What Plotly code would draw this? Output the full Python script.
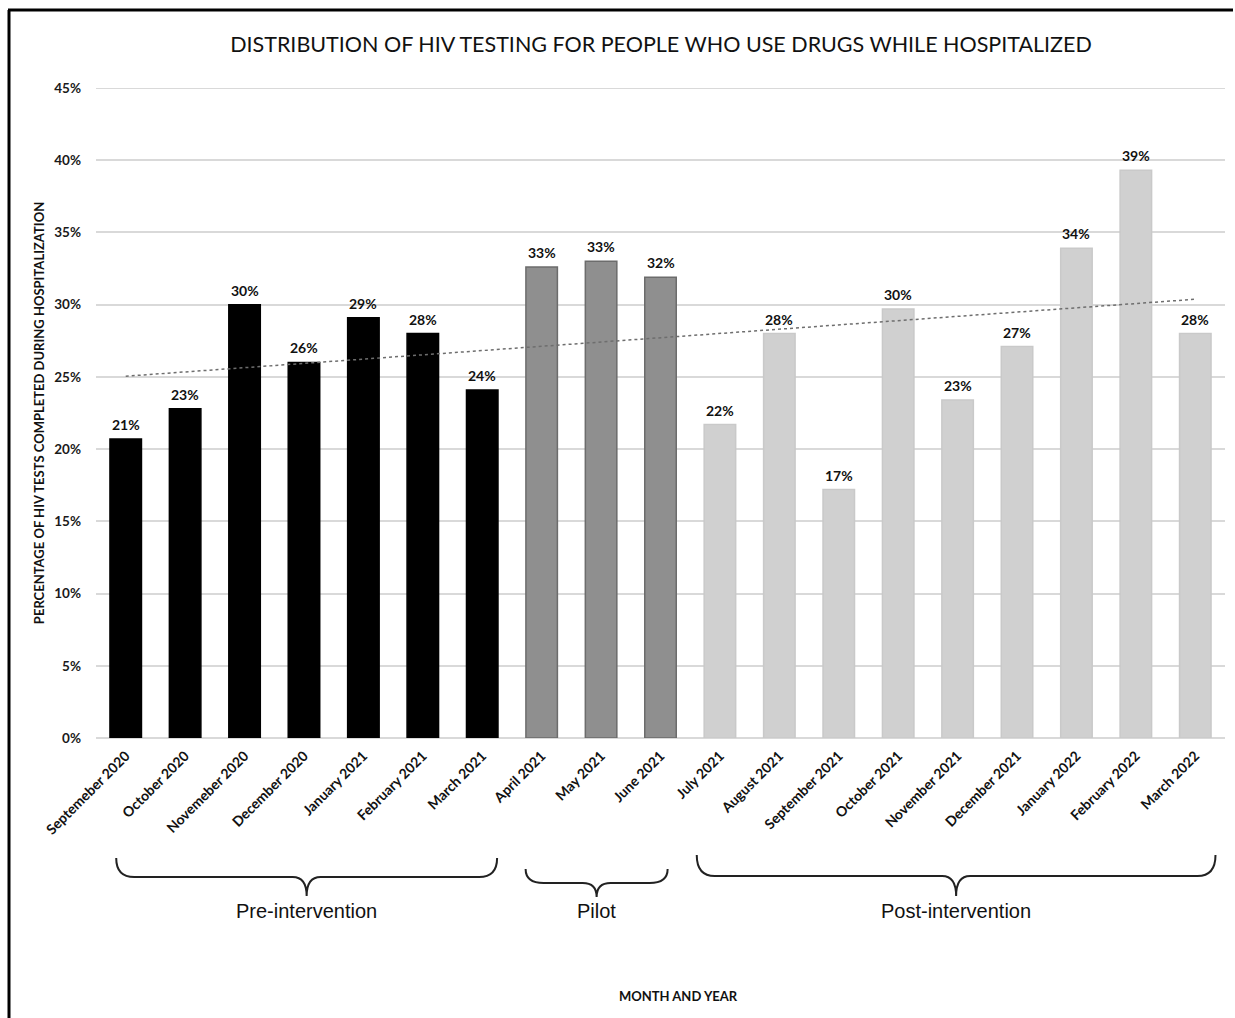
import numpy as np
import plotly.graph_objects as go

# ---- data -------------------------------------------------------------
months = [
    "Septemeber 2020", "October 2020", "Novemeber 2020", "December 2020",
    "January 2021", "February 2021", "March 2021",
    "April 2021", "May 2021", "June 2021",
    "July 2021", "August 2021", "September 2021", "October 2021",
    "November 2021", "December 2021", "January 2022", "February 2022",
    "March 2022",
]
pct_tested = [
    20.7, 22.8, 30.0, 26.0, 29.1, 28.0, 24.1,
    32.6, 33.0, 31.9,
    21.7, 28.0, 17.2, 29.7, 23.4, 27.1, 33.9, 39.3, 28.0,
]
phase_names = ["Pre-intervention", "Pilot", "Post-intervention"]
phase_first = [0, 7, 10]
phase_last = [6, 9, 18]
y_ticks = [0, 5, 10, 15, 20, 25, 30, 35, 40, 45]
y_tick_text = [f"{v}%" for v in y_ticks]

# ---- styling ----------------------------------------------------------
W, H = 1235, 1018
PLOT_L, PLOT_R, PLOT_T, PLOT_B = 96, 1225, 88, 738
phase_fill = ["#000000", "#8f8f8f", "#d0d0d0"]
phase_edge = ["#000000", "#6c6c6c", "#c9c9c9"]
GRID = "#d9d9d9"
FONT = "Lato, 'Open Sans', sans-serif"

n = len(months)
pw, ph = PLOT_R - PLOT_L, PLOT_B - PLOT_T


def px_x(px):
    return (px - PLOT_L) / pw


def px_y(py):
    return (PLOT_B - py) / ph


def idx_x(i):
    # category index -> paper x
    return (i + 0.5) / n


fig = go.Figure()

# bars, one trace per phase
for k, name in enumerate(phase_names):
    sl = slice(phase_first[k], phase_last[k] + 1)
    fig.add_trace(go.Bar(
        x=months[sl], y=pct_tested[sl], name=name,
        marker=dict(color=phase_fill[k], line=dict(color=phase_edge[k], width=1.5)),
        showlegend=False, hoverinfo="x+y",
    ))

# linear trend over all months
xi = np.arange(n)
slope, icpt = np.polyfit(xi, pct_tested, 1)
fig.add_trace(go.Scatter(
    x=[months[0], months[-1]], y=[icpt, icpt + slope * (n - 1)],
    mode="lines", line=dict(color="#6e6e6e", width=1.5, dash="dot"),
    showlegend=False, hoverinfo="skip",
))

# value labels above bars
for m, v in zip(months, pct_tested):
    fig.add_annotation(
        x=m, y=v, text=f"{round(v)}%", showarrow=False,
        yanchor="bottom", yshift=4,
        font=dict(family=FONT, size=14, color="#111111", weight="bold"),
    )

# top gridline at the upper end of the axis
fig.add_shape(type="line", xref="paper", yref="y", x0=0, x1=1,
              y0=y_ticks[-1], y1=y_ticks[-1], line=dict(color=GRID, width=2),
              layer="below")

# curly braces under the month labels
brace_span = [(-0.16, 6.25), (6.73, 9.12), (9.61, 18.34)]
brace_top = [858, 869, 855]
brace_line = [877, 883, 876]
brace_tip = [896, 897, 896]
for k, name in enumerate(phase_names):
    x0 = idx_x(brace_span[k][0])
    x1 = idx_x(brace_span[k][1])
    xm = (x0 + x1) / 2
    yt, yl, yp = px_y(brace_top[k]), px_y(brace_line[k]), px_y(brace_tip[k])
    r = 18 / pw
    rm = 14 / pw
    path = (
        f"M {x0},{yt} Q {x0},{yl} {x0 + r},{yl} "
        f"L {xm - rm},{yl} Q {xm},{yl} {xm},{yp} "
        f"Q {xm},{yl} {xm + rm},{yl} "
        f"L {x1 - r},{yl} Q {x1},{yl} {x1},{yt}"
    )
    fig.add_shape(type="path", path=path, xref="paper", yref="paper",
                  line=dict(color="#222222", width=2))
    fig.add_annotation(
        x=xm, y=px_y(911), xref="paper", yref="paper", text=name,
        showarrow=False, xanchor="center", yanchor="middle",
        font=dict(family="'Liberation Sans', Arial, sans-serif", size=20, color="#111111"),
    )

# x axis caption
fig.add_annotation(
    x=px_x(678), y=px_y(996), xref="paper", yref="paper",
    text="MONTH AND YEAR", showarrow=False, xanchor="center", yanchor="middle",
    font=dict(family=FONT, size=13, color="#111111", weight="bold"),
)

# frame lines (top and left)
fig.add_shape(type="line", xref="paper", yref="paper",
              x0=px_x(8), x1=px_x(W - 2), y0=px_y(10), y1=px_y(10),
              line=dict(color="#000000", width=3))
fig.add_shape(type="line", xref="paper", yref="paper",
              x0=px_x(9), x1=px_x(9), y0=px_y(10), y1=px_y(H + 2),
              line=dict(color="#000000", width=3))

fig.update_layout(
    width=W, height=H,
    margin=dict(l=PLOT_L, r=W - PLOT_R, t=PLOT_T, b=H - PLOT_B),
    paper_bgcolor="white", plot_bgcolor="white",
    bargap=0.47,
    title=dict(
        text="DISTRIBUTION OF HIV TESTING FOR PEOPLE WHO USE DRUGS WHILE HOSPITALIZED",
        x=661 / W, y=1 - 44 / H, xref="container", yref="container",
        xanchor="center", yanchor="middle",
        font=dict(family=FONT, size=21.5, color="#111111"),
    ),
    xaxis=dict(
        type="category", tickangle=-45, showgrid=False, zeroline=False,
        showline=False, ticks="", ticklabelstandoff=6,
        tickfont=dict(family=FONT, size=14, color="#111111", weight="bold"),
    ),
    yaxis=dict(
        range=[0, 45], tickmode="array", tickvals=y_ticks, ticktext=y_tick_text,
        showgrid=True, gridcolor=GRID, gridwidth=2,
        zeroline=True, zerolinecolor=GRID, zerolinewidth=2,
        showline=False, ticks="", ticklabelstandoff=14,
        tickfont=dict(family=FONT, size=13.5, color="#1a1a1a", weight="bold"),
        title=dict(
            text="PERCENTAGE OF HIV TESTS COMPLETED DURING HOSPITALIZATION",
            standoff=6,
            font=dict(family=FONT, size=13, color="#111111", weight="bold"),
        ),
    ),
)

fig.write_html("out.html")
